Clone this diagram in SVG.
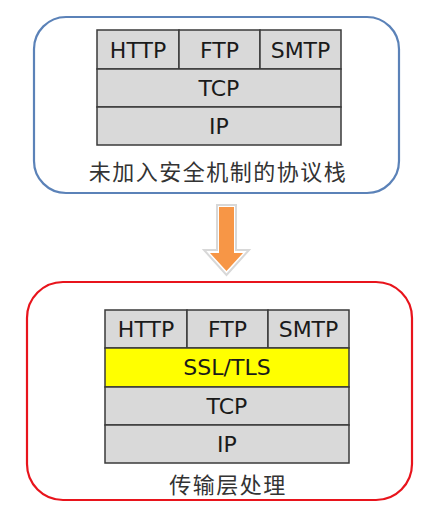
<svg xmlns="http://www.w3.org/2000/svg" width="434" height="519" viewBox="0 0 434 519">
<style>
.cell{fill:#d9d9d9;stroke:#3a3a3a;stroke-width:1.5}
.ssl{fill:#ffff00;stroke:#3a3a3a;stroke-width:1.5}
.lbl{font-family:"DejaVu Sans",Verdana,sans-serif;font-size:22px;fill:#1a1a1a;text-anchor:middle;dominant-baseline:central}
.cap{font-family:"Noto Sans CJK SC",sans-serif;font-size:22px;fill:#333;text-anchor:middle;dominant-baseline:central;letter-spacing:1.5px}
</style>
<rect width="434" height="519" fill="#fff"/>
<g id="top">
<rect x="34" y="17" width="365" height="176" rx="32" fill="#fff" stroke="#5b82b8" stroke-width="2.2"/>
<rect class="cell" x="97" y="30" width="82" height="39"/>
<rect class="cell" x="179" y="30" width="81" height="39"/>
<rect class="cell" x="260" y="30" width="81" height="39"/>
<rect class="cell" x="97" y="69" width="244" height="38"/>
<rect class="cell" x="97" y="107" width="244" height="38"/>
<text class="lbl" x="138" y="50">HTTP</text>
<text class="lbl" x="219.5" y="50">FTP</text>
<text class="lbl" x="300.5" y="50">SMTP</text>
<text class="lbl" x="219" y="88">TCP</text>
<text class="lbl" x="219" y="126">IP</text>
<text class="cap" x="218" y="170">未加入安全机制的协议栈</text>
</g>
<g id="connectors">
<path d="M217,205 H236 V250 H249 L226.5,275 L204,250 H217 Z" fill="#fff" stroke="#d8d8d8" stroke-width="2"/>
<path d="M219,207 H234 V253 H243 L226.5,271 L210,253 H219 Z" fill="#f79646"/>
</g>
<g id="bottom">
<rect x="27" y="282" width="385" height="218" rx="36" fill="#fff" stroke="#e8141c" stroke-width="2.2"/>
<rect class="cell" x="105" y="310" width="82" height="38"/>
<rect class="cell" x="187" y="310" width="81" height="38"/>
<rect class="cell" x="268" y="310" width="81" height="38"/>
<rect class="ssl" x="105" y="348" width="244" height="39"/>
<rect class="cell" x="105" y="387" width="244" height="38"/>
<rect class="cell" x="105" y="425" width="244" height="38"/>
<text class="lbl" x="146" y="329">HTTP</text>
<text class="lbl" x="227.5" y="329">FTP</text>
<text class="lbl" x="308.5" y="329">SMTP</text>
<text class="lbl" x="227" y="367.5">SSL/TLS</text>
<text class="lbl" x="227" y="406">TCP</text>
<text class="lbl" x="227" y="444">IP</text>
<text class="cap" x="228" y="483">传输层处理</text>
</g>
</svg>
